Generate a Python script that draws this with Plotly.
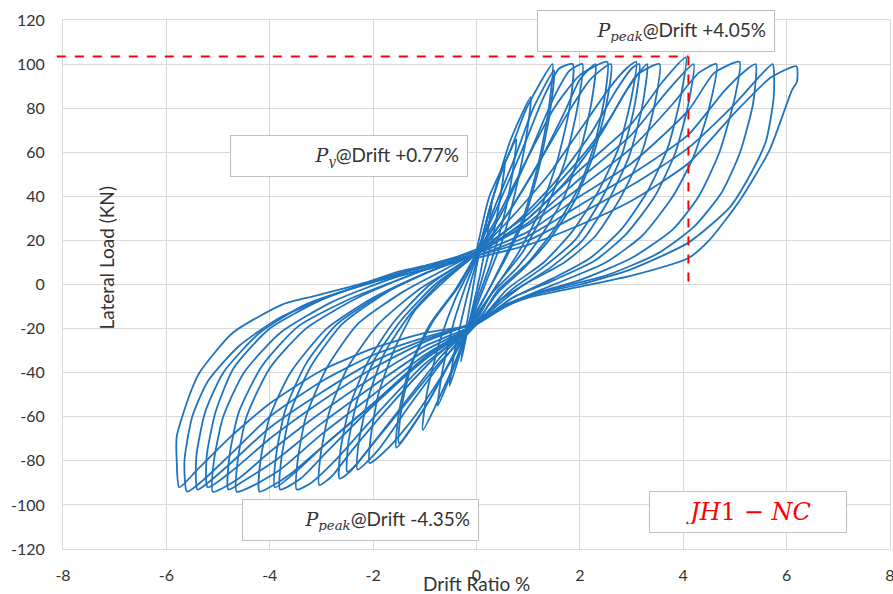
import plotly.graph_objects as go

# ---- data (drift %, load kN) ----
loop01_drift = [0, 0.15, 0.3, 0.22, 0.1, 0, -0.15, -0.3, -0.22, -0.1, 0]
loop01_load = [8, 24, 38, 24, 8, -3, -18, -35, -22, -6, 8]

loop02_drift = [0, 0.25, 0.55, 0.45, 0.28, 0.1, 0, -0.25, -0.52, -0.42, -0.25, -0.1, 0]
loop02_load = [10, 34, 56, 38, 18, 2, -6, -26, -46, -30, -12, 2, 10]

loop03_drift = [0, 0.3, 0.55, 0.77, 0.68, 0.5, 0.25, 0, -0.35, -0.75, -0.65, -0.45, -0.2, 0]
loop03_load = [12, 38, 55, 66, 48, 28, 8, -8, -32, -55, -38, -18, 0, 12]

loop04_drift = [0, 0.3, 0.65, 1.05, 0.95, 0.75, 0.5, 0.25, 0, -0.5, -1.04, -0.95, -0.7, -0.4, 0]
loop04_load = [13, 38, 65, 85, 65, 42, 20, 5, -10, -40, -66, -48, -25, -6, 13]

loop05_drift = [0, 0.25, 0.64, 0.97, 1.47, 1.4, 1.2, 0.9, 0.5, 0.2, 0, -0.4, -0.9, -1.55, -1.5, -1.3, -0.9, -0.4, 0]
loop05_load = [15, 40, 60, 80, 100, 80, 55, 30, 10, -4, -12, -30, -52, -74, -58, -38, -18, -2, 14]

loop05b_drift = [0, 0.35, 0.75, 1.1, 1.5, 1.42, 1.2, 0.9, 0.5, 0.2, 0, -0.45, -0.95, -1.5, -1.45, -1.25, -0.85, -0.35, 0]
loop05b_load = [14, 35, 58, 80, 97, 78, 52, 28, 9, -4, -13, -32, -54, -72, -56, -36, -17, -1, 14]

loop06_drift = [0, 0.4, 0.9, 1.3, 1.6, 1.86, 1.8, 1.55, 1.2, 0.8, 0.35, 0, -0.5, -1.2, -1.7, -2.07, -2.05, -1.9, -1.6, -1.2, -0.6, 0]
loop06_load = [15, 35, 62, 85, 98, 100, 80, 55, 32, 14, -2, -14, -35, -60, -74, -81, -70, -50, -30, -12, 2, 14]

loop07_drift = [0, 0.5, 1.0, 1.5, 1.8, 2.05, 1.95, 1.7, 1.35, 0.9, 0.4, 0, -0.6, -1.3, -1.9, -2.3, -2.28, -2.1, -1.8, -1.3, -0.7, 0]
loop07_load = [14, 33, 58, 85, 97, 100, 80, 55, 35, 15, 0, -15, -33, -55, -75, -84, -72, -52, -32, -14, 1, 14]

loop08_drift = [0, 0.5, 1.0, 1.5, 2.0, 2.53, 2.5, 2.3, 2.0, 1.5, 1.0, 0.4, 0, -0.7, -1.4, -2.1, -2.45, -2.65, -2.63, -2.45, -2.1, -1.6, -0.9, 0]
loop08_load = [15, 35, 58, 80, 95, 101, 88, 65, 45, 25, 10, -3, -18, -35, -55, -75, -85, -88, -75, -55, -35, -17, 0, 15]

loop08b_drift = [0, 0.6, 1.2, 1.7, 2.0, 2.3, 2.22, 2.0, 1.7, 1.25, 0.8, 0.3, 0, -0.7, -1.4, -2.0, -2.3, -2.5, -2.48, -2.3, -1.95, -1.45, -0.8, 0]
loop08b_load = [14, 32, 55, 78, 93, 100, 82, 60, 40, 22, 8, -4, -16, -33, -54, -72, -81, -85, -72, -52, -33, -16, 0, 14]

loop09_drift = [0, 0.6, 1.2, 1.8, 2.2, 2.6, 2.5, 2.25, 1.9, 1.4, 0.9, 0.4, 0, -0.8, -1.6, -2.4, -2.8, -3.04, -3.02, -2.85, -2.5, -1.9, -1.1, 0]
loop09_load = [14, 32, 55, 79, 93, 100, 80, 58, 38, 20, 7, -4, -17, -33, -53, -75, -87, -91, -78, -58, -38, -18, -2, 14]

loop10_drift = [0, 0.7, 1.4, 2.0, 2.6, 2.9, 3.09, 3.0, 2.75, 2.35, 1.85, 1.3, 0.6, 0, -1.0, -1.9, -2.7, -3.2, -3.48, -3.46, -3.3, -2.9, -2.3, -1.4, -0.6, 0]
loop10_load = [15, 31, 50, 70, 90, 98, 101, 85, 62, 42, 24, 10, -2, -18, -36, -58, -79, -90, -93, -80, -60, -38, -18, -3, 7, 15]

loop11_drift = [0, 0.8, 1.5, 2.2, 2.7, 3.0, 3.15, 3.05, 2.8, 2.4, 1.9, 1.3, 0.7, 0, -1.0, -2.0, -2.9, -3.4, -3.8, -3.78, -3.6, -3.2, -2.6, -1.7, -0.8, 0]
loop11_load = [14, 29, 46, 68, 88, 98, 100, 80, 58, 38, 20, 8, -2, -17, -34, -55, -76, -88, -93, -80, -58, -37, -18, -3, 7, 14]

loop11b_drift = [0, 0.9, 1.7, 2.4, 2.9, 3.3, 3.2, 2.95, 2.55, 2.05, 1.45, 0.8, 0, -1.0, -2.0, -2.9, -3.5, -3.9, -3.88, -3.7, -3.3, -2.7, -1.8, -0.9, 0]
loop11b_load = [14, 28, 46, 68, 88, 100, 80, 58, 38, 20, 8, -2, -17, -33, -54, -72, -85, -92, -78, -57, -36, -18, -4, 6, 14]

loop12_drift = [0, 1.0, 2.0, 2.6, 3.1, 3.54, 3.45, 3.2, 2.8, 2.3, 1.7, 1.0, 0.4, 0, -1.0, -2.0, -3.0, -3.6, -4.0, -4.2, -4.18, -4.0, -3.6, -2.9, -2.0, -1.0, 0]
loop12_load = [15, 32, 57, 76, 95, 100, 82, 60, 40, 22, 10, 1, -8, -18, -34, -54, -74, -86, -92, -94, -80, -60, -40, -20, -6, 5, 14]

loop13_drift = [0, 1.0, 2.0, 3.0, 3.6, 4.05, 3.95, 3.7, 3.3, 2.8, 2.2, 1.5, 0.7, 0, -1.0, -2.0, -3.0, -3.8, -4.3, -4.64, -4.62, -4.45, -4.0, -3.3, -2.3, -1.2, 0]
loop13_load = [14, 30, 52, 73, 92, 103, 85, 62, 42, 25, 12, 3, -6, -18, -32, -50, -68, -84, -91, -94, -80, -60, -38, -20, -6, 5, 14]

loop13b_drift = [0, 1.0, 2.0, 3.0, 3.7, 4.2, 4.1, 3.85, 3.45, 2.9, 2.3, 1.5, 0.7, 0, -1.0, -2.0, -3.0, -3.9, -4.5, -4.8, -4.78, -4.6, -4.15, -3.45, -2.4, -1.3, 0]
loop13b_load = [14, 28, 48, 68, 88, 100, 82, 60, 40, 23, 11, 2, -6, -18, -30, -46, -63, -80, -89, -93, -78, -58, -37, -19, -6, 4, 16]

loop14_drift = [0, 1.0, 2.0, 3.0, 3.8, 4.3, 4.64, 4.5, 4.2, 3.8, 3.2, 2.5, 1.5, 0.7, 0, -1.0, -2.0, -3.0, -4.0, -4.6, -5.1, -5.08, -4.9, -4.5, -3.8, -2.8, -1.6, 0]
loop14_load = [15, 27, 44, 62, 82, 96, 100, 80, 58, 40, 22, 10, 0, -8, -18, -28, -42, -58, -76, -88, -94, -80, -60, -40, -22, -8, 3, 13]

loop15_drift = [0, 1.0, 2.0, 3.0, 4.1, 4.6, 5.09, 5.0, 4.7, 4.3, 3.8, 3.0, 2.0, 1.0, 0, -1.0, -2.0, -3.0, -4.0, -4.7, -5.2, -5.22, -5.05, -4.7, -4.0, -3.0, -1.8, 0]
loop15_load = [14, 24, 40, 55, 79, 96, 101, 85, 60, 40, 25, 12, 2, -5, -17, -26, -38, -53, -70, -84, -92, -78, -58, -38, -20, -7, 3, 15]

loop15b_drift = [0, 1.0, 2.0, 3.0, 4.1, 4.8, 5.2, 5.4, 5.35, 5.1, 4.75, 4.2, 3.5, 2.5, 1.5, 0.6, 0, -1.0, -2.0, -3.0, -4.0, -4.8, -5.2, -5.4, -5.42, -5.25, -4.9, -4.2, -3.3, -2.0, -0.8, 0]
loop15b_load = [13, 22, 36, 50, 68, 88, 97, 100, 82, 60, 42, 26, 14, 4, -2, -9, -17, -25, -35, -49, -65, -82, -90, -93, -78, -58, -40, -22, -9, 1, 8, 14]

loop16_drift = [0, 1.0, 2.0, 3.0, 4.1, 5.0, 5.5, 5.73, 5.75, 5.6, 5.3, 4.9, 4.1, 3.0, 2.0, 1.0, 0.4, 0, -1.0, -2.0, -3.0, -4.0, -4.8, -5.3, -5.6, -5.65, -5.5, -5.2, -4.6, -3.8, -2.8, -1.6, 0]
loop16_load = [13, 20, 32, 45, 62, 82, 95, 100, 85, 65, 50, 35, 19, 7, 0, -5, -11, -17, -24, -32, -44, -60, -78, -89, -94, -80, -60, -44, -28, -15, -5, 4, 14]

loop17_drift = [0, 1.0, 2.0, 3.0, 4.1, 5.0, 5.7, 6.19, 6.2, 6.1, 5.67, 5.09, 4.5, 4.1, 3.0, 2.0, 1.0, 0.45, 0, -1.0, -2.0, -3.0, -4.0, -4.8, -5.4, -5.75, -5.8, -5.8, -5.55, -5.36, -4.72, -3.75, -3.1, -2.13, -1.49, -0.7, 0]
loop17_load = [12, 18, 27, 38, 55, 78, 94, 99, 92, 88, 61, 38, 20, 12, 4, -1, -6, -11, -18, -22, -29, -39, -54, -70, -84, -92, -80, -69, -50, -40, -22, -9, -5, 1, 6, 10, 14]

loops = [
    (loop01_drift, loop01_load), (loop02_drift, loop02_load), (loop03_drift, loop03_load),
    (loop04_drift, loop04_load), (loop05_drift, loop05_load), (loop05b_drift, loop05b_load),
    (loop06_drift, loop06_load), (loop07_drift, loop07_load), (loop08_drift, loop08_load),
    (loop08b_drift, loop08b_load), (loop09_drift, loop09_load), (loop10_drift, loop10_load),
    (loop11_drift, loop11_load), (loop11b_drift, loop11b_load), (loop12_drift, loop12_load),
    (loop13_drift, loop13_load), (loop13b_drift, loop13b_load), (loop14_drift, loop14_load),
    (loop15_drift, loop15_load), (loop15b_drift, loop15b_load), (loop16_drift, loop16_load),
    (loop17_drift, loop17_load),
]

peak_load_pos = 103.4
peak_drift_pos = 4.1

x_ticks = [-8, -6, -4, -2, 0, 2, 4, 6, 8]
y_ticks = [-120, -100, -80, -60, -40, -20, 0, 20, 40, 60, 80, 100, 120]

LINE = "#1F74C0"
GRID = "#D9D9D9"
TXT = "#333333"
FONT = "Lato"
MATH = "DejaVu Serif"

fig = go.Figure()
for dx, ly in loops:
    fig.add_trace(go.Scatter(x=dx, y=ly, mode="lines",
                             line=dict(color=LINE, width=1.8, shape="spline", smoothing=0.6),
                             showlegend=False, hoverinfo="skip"))

# red dashed reference lines
fig.add_shape(type="line", xref="paper", yref="y", x0=-0.0075, x1=(peak_drift_pos + 8) / 16,
              y0=peak_load_pos, y1=peak_load_pos,
              line=dict(color="#FF0000", width=2, dash="dash"))
fig.add_shape(type="line", xref="x", yref="y", x0=peak_drift_pos, x1=peak_drift_pos,
              y0=peak_load_pos, y1=0.5,
              line=dict(color="#FF0000", width=2, dash="dash"))

box = dict(bordercolor="#BFBFBF", borderwidth=1, bgcolor="white", borderpad=8,
           showarrow=False, xanchor="left", yanchor="top", xref="paper", yref="paper")

def ptext(sub, rest):
    return (f"<span style='font-family:{MATH}'><i>P</i><sub><i>{sub}</i></sub></span>"
            f"@Drift {rest}")

def px(xp):
    return (xp - 63) / 827

def py(yp):
    return (549 - yp) / 529

fig.add_annotation(x=px(537), y=py(10), text=ptext("peak", "+4.05%"), width=220, height=24,
                   align="right", font=dict(family=FONT, size=19, color=TXT), **box)
fig.add_annotation(x=px(230), y=py(135), text=ptext("y", "+0.77%"), width=220, height=24,
                   align="right", font=dict(family=FONT, size=19, color=TXT), **box)
fig.add_annotation(x=px(242), y=py(499), text=ptext("peak", "-4.35%"), width=219, height=24,
                   align="right", font=dict(family=FONT, size=19, color=TXT), **box)
fig.add_annotation(x=px(649), y=py(491), text="<i>JH</i>1 − <i>NC</i>", width=180, height=24,
                   align="center", font=dict(family=MATH, size=24, color="#FF0000"), **box)

# axis titles (placed as in the reference)
fig.add_annotation(x=px(92), y=py(258), xref="paper", yref="paper", text="Lateral Load (KN)",
                   textangle=-90, showarrow=False, font=dict(family=FONT, size=19, color=TXT))
fig.add_annotation(x=px(476), y=py(583), xref="paper", yref="paper", text="Drift Ratio %",
                   showarrow=False, yanchor="middle", font=dict(family=FONT, size=19, color=TXT))

fig.update_xaxes(range=[-8, 8], tickvals=x_ticks, ticktext=[str(v) for v in x_ticks],
                 automargin=False,
                 showgrid=True, gridcolor=GRID, gridwidth=1, zeroline=True, zerolinecolor=GRID,
                 zerolinewidth=1, showline=True, linecolor=GRID, mirror=True, ticks="",
                 ticklabelstandoff=12, ticklabeloverflow="allow",
                 tickfont=dict(family=FONT, size=16, color=TXT))
fig.update_yaxes(range=[-120, 120], tickvals=y_ticks, ticktext=[str(v) for v in y_ticks],
                 automargin=False,
                 showgrid=True, gridcolor=GRID, gridwidth=1, zeroline=True, zerolinecolor=GRID,
                 zerolinewidth=1, showline=True, linecolor=GRID, mirror=True, ticks="",
                 ticklabelstandoff=14, tickfont=dict(family=FONT, size=16, color=TXT))

fig.update_layout(width=893, height=594, margin=dict(l=63, r=3, t=20, b=45),
                  plot_bgcolor="white", paper_bgcolor="white")

fig.write_html("out.html")
